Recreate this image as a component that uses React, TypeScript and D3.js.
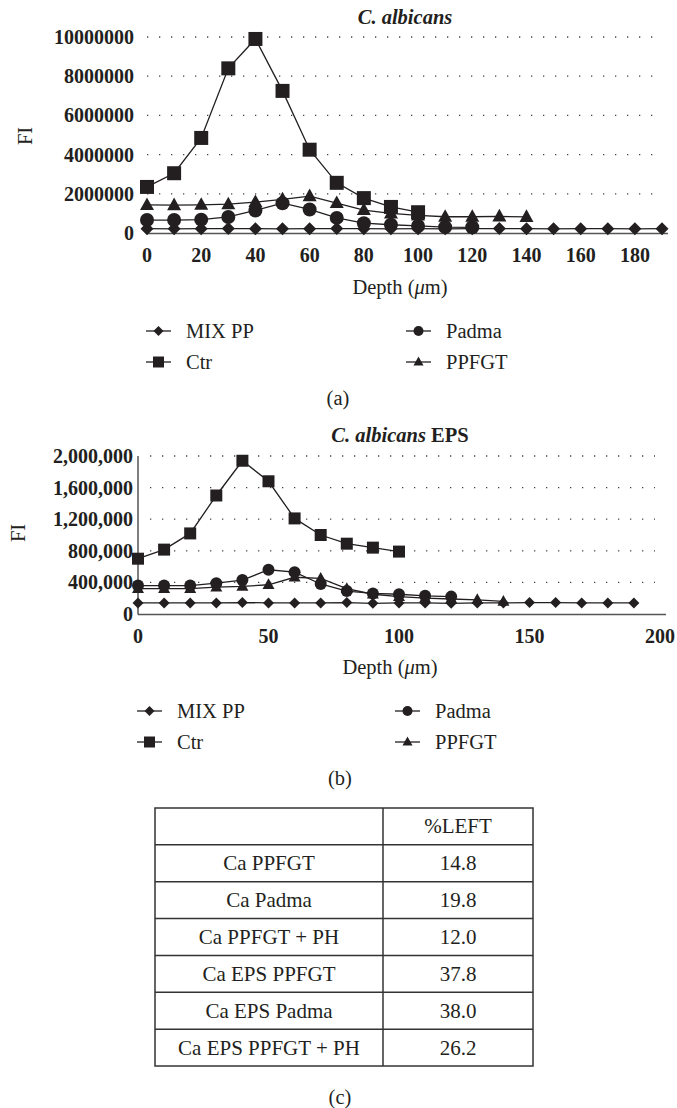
import React from 'react';
import * as d3 from 'd3';

// depth (µm) categories
const depthsA = [0, 10, 20, 30, 40, 50, 60, 70, 80, 90, 100, 110, 120, 130, 140, 150, 160, 170, 180, 190];
const depthsB = [0, 10, 20, 30, 40, 50, 60, 70, 80, 90, 100, 110, 120, 130, 140, 150, 160, 170, 180, 190];

// (a) C. albicans
const mixA = [220000, 215000, 220000, 225000, 220000, 215000, 220000, 225000, 220000, 215000, 220000, 215000, 220000, 225000, 220000, 215000, 220000, 220000, 215000, 220000];
const ctrA = [2350000, 3050000, 4850000, 8400000, 9900000, 7250000, 4250000, 2560000, 1780000, 1330000, 1060000];
const padmaA = [660000, 660000, 680000, 820000, 1150000, 1520000, 1200000, 770000, 500000, 420000, 360000, 300000, 290000];
const ppfgtA = [1430000, 1420000, 1440000, 1470000, 1580000, 1720000, 1880000, 1530000, 1170000, 1000000, 900000, 830000, 830000, 850000, 820000];

// (b) C. albicans EPS
const mixB = [140000, 140000, 140000, 140000, 145000, 140000, 140000, 140000, 145000, 135000, 140000, 140000, 135000, 140000, 140000, 145000, 145000, 140000, 140000, 140000];
const ctrB = [700000, 815000, 1020000, 1500000, 1940000, 1680000, 1210000, 1000000, 890000, 840000, 790000];
const padmaB = [360000, 360000, 360000, 390000, 430000, 560000, 530000, 380000, 290000, 260000, 250000, 230000, 220000];
const ppfgtB = [320000, 320000, 320000, 340000, 350000, 370000, 465000, 450000, 320000, 250000, 220000, 200000, 190000, 180000, 160000];

const ticksA = [0, 2000000, 4000000, 6000000, 8000000, 10000000];
const ticksB = [0, 400000, 800000, 1200000, 1600000, 2000000];
const xTicksA = [0, 20, 40, 60, 80, 100, 120, 140, 160, 180];
const xTicksB = [0, 50, 100, 150, 200];

// table (c)
const tableHeader = ['', '%LEFT'];
const tableRows = ['Ca PPFGT', 'Ca Padma', 'Ca PPFGT + PH', 'Ca EPS PPFGT', 'Ca EPS Padma', 'Ca EPS PPFGT + PH'];
const tableValues = ['14.8', '19.8', '12.0', '37.8', '38.0', '26.2'];

const INK = '#231f20';
const FONT = 'Liberation Serif, Times New Roman, serif';

type Shape = 'diamond' | 'square' | 'circle' | 'triangle';

// marker of overall size s (width) centred at x,y
const markerPath = (shape: Shape, s: number) => {
  const h = s / 2;
  const p = d3.path();
  if (shape === 'square') {
    p.rect(-h, -h, s, s);
  } else if (shape === 'circle') {
    p.arc(0, 0, h, 0, Math.PI * 2);
  } else if (shape === 'diamond') {
    p.moveTo(0, -h); p.lineTo(h, 0); p.lineTo(0, h); p.lineTo(-h, 0); p.closePath();
  } else {
    const th = s * 0.9;
    p.moveTo(0, -th * 0.6); p.lineTo(h, th * 0.4); p.lineTo(-h, th * 0.4); p.closePath();
  }
  return p.toString();
};

const Marker = ({ shape, x, y, s }: { shape: Shape; x: number; y: number; s: number }) => (
  <path d={markerPath(shape, s)} transform={`translate(${x},${y})`} fill={INK} />
);

type Series = { name: string; shape: Shape; values: number[] };

const Chart = ({ title, depths, series, yTicks, xTicks, xDomain, xRange, yDomain, yRange, grid, yFormat, yAxisLine, sizes, labelRight, fiPos, titlePos, depthPos, legendY, legendX, panel, panelPos }: any) => {
  const x = d3.scaleLinear().domain(xDomain).range(xRange);
  const y = d3.scaleLinear().domain(yDomain).range(yRange);
  const line = d3.line<number>().x((_, i) => x(depths[i])).y(d => y(d));
  const legendOrder: [Series, number, number][] = [
    [series[0], 0, 0],
    [series[2], 1, 0],
    [series[1], 0, 1],
    [series[3], 1, 1],
  ];
  return (
    <g>
      <text x={titlePos[0]} y={titlePos[1]} textAnchor="middle" dominantBaseline="central" fontSize={20.5} fontWeight="bold" fill={INK}>
        <tspan fontStyle="italic">C. albicans</tspan>
        {title}
      </text>
      {yTicks.filter((t: number) => t > 0).map((t: number) => (
        <line key={t} x1={grid[0]} x2={grid[1]} y1={y(t)} y2={y(t)} stroke="#444" strokeWidth={1.3} strokeDasharray="1.3 10.7" />
      ))}
      {yAxisLine && <line x1={xRange[0]} x2={xRange[0]} y1={y(yDomain[1])} y2={y(0) + 0.5} stroke="#555" strokeWidth={1.5} />}
      <line x1={xRange[0]} x2={xRange[1] + 6} y1={y(0) + 0.5} y2={y(0) + 0.5} stroke="#555" strokeWidth={1.5} />
      {yTicks.map((t: number) => (
        <text key={t} x={labelRight} y={y(t)} textAnchor="end" dominantBaseline="central" fontSize={20} fontWeight="bold" fill={INK}>
          {yFormat(t)}
        </text>
      ))}
      {xTicks.map((t: number) => (
        <text key={t} x={x(t)} y={y(0) + 22} textAnchor="middle" dominantBaseline="central" fontSize={20} fontWeight="bold" fill={INK}>
          {t}
        </text>
      ))}
      <text transform={`translate(${fiPos[0]},${fiPos[1]}) rotate(-90)`} textAnchor="middle" dominantBaseline="central" fontSize={20.5} fill={INK}>FI</text>
      <text x={depthPos[0]} y={depthPos[1]} textAnchor="middle" dominantBaseline="central" fontSize={20.5} fill={INK}>
        Depth (<tspan fontStyle="italic">μ</tspan>m)
      </text>
      {series.map((s: Series) => (
        <g key={s.name}>
          <path d={line(s.values) || ''} fill="none" stroke={INK} strokeWidth={1.3} />
          {s.values.map((v, i) => (
            <Marker key={i} shape={s.shape} x={x(depths[i])} y={y(v)} s={sizes[s.shape]} />
          ))}
        </g>
      ))}
      {legendOrder.map(([s, col, row]) => {
        const lx = legendX[col];
        const ly = legendY[row];
        return (
          <g key={s.name}>
            <line x1={lx} x2={lx + 25} y1={ly} y2={ly} stroke={INK} strokeWidth={1.3} />
            <Marker shape={s.shape} x={lx + 12.5} y={ly} s={s.shape === 'square' ? 11 : 10} />
            <text x={lx + 40} y={ly} dominantBaseline="central" fontSize={20.5} fill={INK}>{s.name}</text>
          </g>
        );
      })}
      <text x={panelPos[0]} y={panelPos[1]} textAnchor="middle" dominantBaseline="central" fontSize={20.5} fill={INK}>{panel}</text>
    </g>
  );
};

export default function App() {
  const seriesA: Series[] = [
    { name: 'MIX PP', shape: 'diamond', values: mixA },
    { name: 'Ctr', shape: 'square', values: ctrA },
    { name: 'Padma', shape: 'circle', values: padmaA },
    { name: 'PPFGT', shape: 'triangle', values: ppfgtA },
  ];
  const seriesB: Series[] = [
    { name: 'MIX PP', shape: 'diamond', values: mixB },
    { name: 'Ctr', shape: 'square', values: ctrB },
    { name: 'Padma', shape: 'circle', values: padmaB },
    { name: 'PPFGT', shape: 'triangle', values: ppfgtB },
  ];
  const rowY = d3.scaleLinear().domain([0, 7]).range([808, 1066]);
  const colX = [155, 383, 533];
  const comma = d3.format(',');
  return (
    <svg width={677} height={1108} fontFamily={FONT} style={{ position: 'absolute', left: 0, top: 0, background: '#fff', fontFamily: FONT }}>
      <rect width={677} height={1108} fill="#fff" />
      <Chart
        title=" EPS"
        depths={depthsB}
        series={seriesB}
        yTicks={ticksB}
        xTicks={xTicksB}
        xDomain={[0, 200]}
        xRange={[138, 660]}
        yDomain={[0, 2000000]}
        yRange={[614, 456]}
        grid={[150, 655]}
        yFormat={(t: number) => comma(t)}
        yAxisLine={true}
        sizes={{ square: 12, circle: 12, triangle: 12, diamond: 11 }}
        labelRight={133}
        fiPos={[18, 533]}
        titlePos={[400, 435]}
        depthPos={[390, 667]}
        legendY={[711, 742]}
        legendX={[137, 395]}
        panel="(b)"
        panelPos={[340, 778]}
      />
      <Chart
        title=""
        depths={depthsA}
        series={seriesA}
        yTicks={ticksA}
        xTicks={xTicksA}
        xDomain={[0, 190]}
        xRange={[147, 662]}
        yDomain={[0, 10000000]}
        yRange={[233, 37]}
        grid={[147, 653]}
        yFormat={(t: number) => String(t)}
        yAxisLine={false}
        sizes={{ square: 14, circle: 14, triangle: 14, diamond: 13 }}
        labelRight={134}
        fiPos={[25, 136]}
        titlePos={[405, 17]}
        depthPos={[400, 287]}
        legendY={[331, 362]}
        legendX={[146, 406]}
        panel="(a)"
        panelPos={[338, 398]}
      />
      <g>
        <rect x={colX[0]} y={rowY(0)} width={colX[2] - colX[0]} height={rowY(7) - rowY(0)} fill="none" stroke="#333" strokeWidth={1.5} />
        <line x1={colX[1]} x2={colX[1]} y1={rowY(0)} y2={rowY(7)} stroke="#333" strokeWidth={1.5} />
        {d3.range(1, 7).map(i => (
          <line key={i} x1={colX[0]} x2={colX[2]} y1={rowY(i)} y2={rowY(i)} stroke="#333" strokeWidth={1.5} />
        ))}
        <text x={(colX[0] + colX[1]) / 2} y={(rowY(0) + rowY(1)) / 2} textAnchor="middle" dominantBaseline="central" fontSize={21} fill={INK}>{tableHeader[0]}</text>
        <text x={(colX[1] + colX[2]) / 2} y={(rowY(0) + rowY(1)) / 2} textAnchor="middle" dominantBaseline="central" fontSize={21} fill={INK}>{tableHeader[1]}</text>
        {tableRows.map((r, i) => (
          <g key={r}>
            <text x={(colX[0] + colX[1]) / 2} y={(rowY(i + 1) + rowY(i + 2)) / 2} textAnchor="middle" dominantBaseline="central" fontSize={21} fill={INK}>{r}</text>
            <text x={(colX[1] + colX[2]) / 2} y={(rowY(i + 1) + rowY(i + 2)) / 2} textAnchor="middle" dominantBaseline="central" fontSize={21} fill={INK}>{tableValues[i]}</text>
          </g>
        ))}
        <text x={340} y={1097} textAnchor="middle" dominantBaseline="central" fontSize={20.5} fill={INK}>(c)</text>
      </g>
    </svg>
  );
}
